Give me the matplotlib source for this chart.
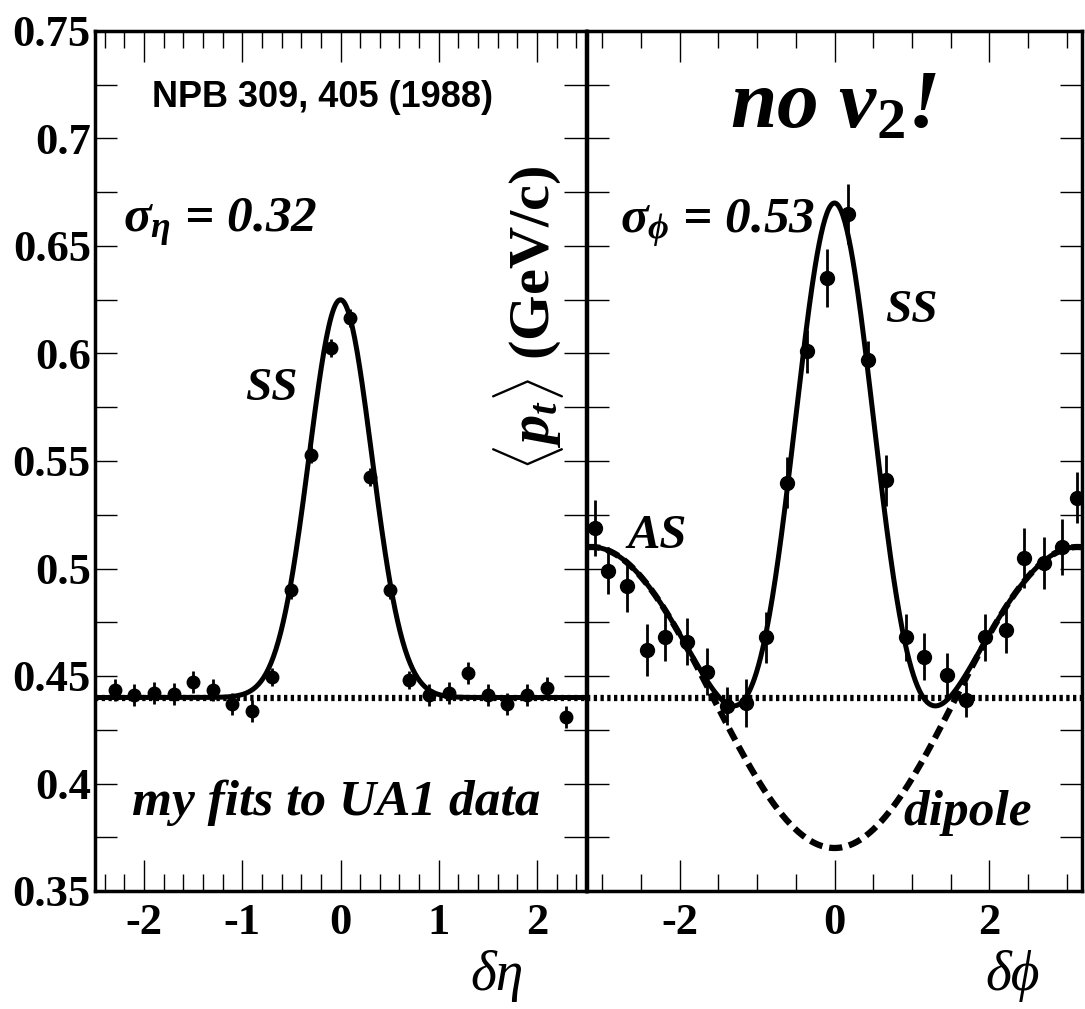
import numpy as np
import matplotlib
matplotlib.use("Agg")
import matplotlib.pyplot as plt
from matplotlib.ticker import MultipleLocator, FuncFormatter

plt.rcParams['font.family'] = ['Liberation Serif', 'DejaVu Serif']
plt.rcParams['font.weight'] = 'bold'
plt.rcParams['axes.unicode_minus'] = False
plt.rcParams['mathtext.fontset'] = 'custom'
plt.rcParams['mathtext.rm'] = 'Liberation Serif:bold'
plt.rcParams['mathtext.it'] = 'Liberation Serif:italic:bold'
plt.rcParams['mathtext.bf'] = 'Liberation Serif:bold'

# UA1 <pt> vs delta eta (left panel)
eta = [-2.3, -2.1, -1.9, -1.7, -1.5, -1.3, -1.1, -0.9, -0.7, -0.5, -0.3, -0.1,
       0.1, 0.3, 0.5, 0.7, 0.9, 1.1, 1.3, 1.5, 1.7, 1.9, 2.1, 2.3]
pt_eta = [0.4435, 0.4412, 0.4421, 0.4416, 0.4472, 0.4435, 0.4370, 0.4337, 0.4495,
          0.490, 0.553, 0.6026, 0.6165, 0.5426, 0.490, 0.4481, 0.4412, 0.4421,
          0.4514, 0.4412, 0.4370, 0.4412, 0.4444, 0.4310]
err_eta = [0.005, 0.005, 0.005, 0.005, 0.005, 0.005, 0.005, 0.005, 0.004,
           0.004, 0.004, 0.004, 0.004, 0.004, 0.004, 0.004, 0.005, 0.005,
           0.005, 0.005, 0.005, 0.005, 0.005, 0.005]

# UA1 <pt> vs delta phi (right panel)
phi = [-3.10, -2.93, -2.68, -2.43, -2.19, -1.91, -1.65, -1.39, -1.14, -0.88, -0.62,
       -0.35, -0.10, 0.17, 0.43, 0.67, 0.93, 1.16, 1.45, 1.70, 1.94, 2.22, 2.45,
       2.71, 2.94, 3.14]
pt_phi = [0.519, 0.499, 0.492, 0.462, 0.468, 0.466, 0.452, 0.436, 0.4375, 0.468,
          0.540, 0.601, 0.635, 0.665, 0.597, 0.541, 0.468, 0.459, 0.4505, 0.439,
          0.468, 0.4715, 0.505, 0.5026, 0.510, 0.533]
err_phi = [0.013, 0.011, 0.012, 0.012, 0.011, 0.011, 0.011, 0.009, 0.011, 0.012,
           0.012, 0.010, 0.0135, 0.014, 0.009, 0.012, 0.011, 0.011, 0.010, 0.008,
           0.011, 0.011, 0.014, 0.012, 0.013, 0.012]

# fit parameters
base = 0.44
amp_eta, sig_eta = 0.185, 0.32
amp_phi, sig_phi = 0.30, 0.53
dip = 0.07

W, H = 1085, 1009
fig = plt.figure(figsize=(W / 100, H / 100), dpi=100)
ax1 = fig.add_axes([95 / W, 118 / H, 491 / W, 860 / H])
ax2 = fig.add_axes([587 / W, 118 / H, 495 / W, 860 / H])

def fx(px):
    return px / W

def fy(py):
    return 1 - py / H

for ax in (ax1, ax2):
    ax.set_ylim(0.35, 0.75)
    ax.yaxis.set_major_locator(MultipleLocator(0.05))
    ax.yaxis.set_minor_locator(MultipleLocator(0.025))
    ax.tick_params(which='both', direction='in', top=True, right=True,
                   width=1.0, labelsize=32)
    ax.tick_params(axis='x', which='major', length=22, pad=9)
    ax.tick_params(axis='x', which='minor', length=12)
    ax.tick_params(axis='y', which='both', length=16, pad=3)
    for s in ax.spines.values():
        s.set_linewidth(2.5)

ax1.yaxis.set_major_formatter(FuncFormatter(lambda v, p: f'{v:g}'))
ax2.tick_params(axis='y', labelleft=False)

# left panel
ax1.set_xlim(-2.5, 2.5)
ax1.xaxis.set_major_locator(MultipleLocator(1))
ax1.xaxis.set_minor_locator(MultipleLocator(0.2))
xe = np.linspace(-2.5, 2.5, 400)
ax1.plot(xe, [base] * len(xe), color='black', lw=4.5, dashes=(0.53, 0.55),
         dash_capstyle='butt')
ax1.plot(xe, base + amp_eta * np.exp(-xe ** 2 / (2 * sig_eta ** 2)),
         color='black', lw=3.6)
ax1.errorbar(eta, pt_eta, yerr=err_eta, fmt='o', color='black', ms=9,
             elinewidth=2, capsize=0)

# right panel
ax2.set_xlim(-3.2, 3.2)
ax2.xaxis.set_major_locator(MultipleLocator(2))
ax2.xaxis.set_minor_locator(MultipleLocator(0.5))
xp = np.linspace(-3.2, 3.2, 500)
ax2.plot(xp, [base] * len(xp), color='black', lw=4.5, dashes=(0.53, 0.55),
         dash_capstyle='butt')
ax2.plot(xp, base - dip * np.cos(xp), color='black', lw=4.5, dashes=(2.1, 1.1))
ax2.plot(xp, base - dip * np.cos(xp) + amp_phi * np.exp(-xp ** 2 / (2 * sig_phi ** 2)),
         color='black', lw=3.6)
ax2.errorbar(phi, pt_phi, yerr=err_phi, fmt='o', color='black', ms=10,
             elinewidth=2, capsize=0)

# annotations
fig.text(fx(323), fy(107), 'NPB 309, 405 (1988)', ha='center', va='baseline',
         family='Liberation Sans', weight='bold', fontsize=26)
fig.text(fx(123), fy(232), r'$\sigma_\eta$ = 0.32', va='baseline',
         style='italic', fontsize=37)
fig.text(fx(245), fy(400), 'SS', va='baseline', style='italic', fontsize=34)
fig.text(fx(132), fy(815), 'my fits to UA1 data', va='baseline',
         style='italic', fontsize=37)
fig.text(fx(470), fy(990), 'δη', va='baseline', style='italic',
         weight='normal', fontsize=40)

fig.text(fx(730), fy(128), r'no v$_{\mathrm{2}}$!', va='baseline',
         style='italic', fontsize=60)
fig.text(fx(620), fy(233), r'$\sigma_\phi$ = 0.53', va='baseline',
         style='italic', fontsize=37)
fig.text(fx(885), fy(322), 'SS', va='baseline', style='italic', fontsize=34)
fig.text(fx(628), fy(548), 'AS', va='baseline', style='italic', fontsize=35)
fig.text(fx(903), fy(825), 'dipole', va='baseline', style='italic', fontsize=37)
fig.text(fx(985), fy(990), 'δϕ', va='baseline', style='italic',
         weight='normal', fontsize=40, family=['Liberation Serif', 'DejaVu Serif'])

fig.text(fx(528), fy(318), r'$\langle p_t \rangle$ (GeV/c)', rotation=90,
         ha='center', va='center', fontsize=42)

fig.savefig('out.png', dpi=100)
